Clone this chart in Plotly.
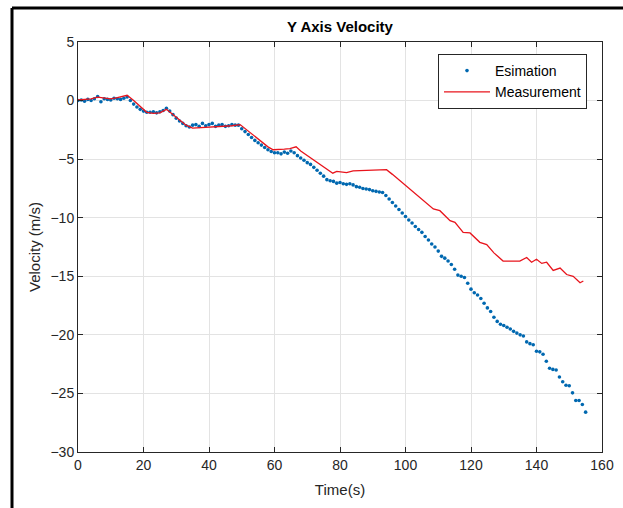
import plotly.graph_objects as go

# Estimation (blue dots), one sample per second starting at t = 0
est_vel = [
    0.0, 0.05, -0.05, 0.1, 0.0, 0.15, 0.35, -0.1, 0.15, 0.1, 0.05, 0.2, 0.15, 0.1, 0.2, 0.3,
    0.0, -0.3, -0.55, -0.75, -0.9, -1.0,
    -1.0, -0.95, -1.05, -0.95, -0.85,
    -0.65,
    -0.9, -1.2, -1.5, -1.75, -1.95, -2.15, -2.25,
    -2.1, -2.05, -2.2, -1.95, -2.15, -2.05, -1.95, -2.2, -2.1, -2.05, -2.2, -2.15, -2.05, -2.1, -2.1,
    -2.4, -2.65, -2.9, -3.15, -3.4, -3.6, -3.8, -4.0, -4.2, -4.35,
    -4.45, -4.45, -4.55, -4.4, -4.5, -4.3, -4.45,
    -4.7, -4.9, -5.1, -5.3, -5.45, -5.7, -5.95, -6.2, -6.45, -6.75, -6.85,
    -6.9, -7.05, -7.0, -7.1, -7.15, -7.1, -7.2, -7.35, -7.4, -7.5, -7.55, -7.6, -7.7, -7.75, -7.8, -7.85,
    -8.1, -8.4, -8.7, -9.0, -9.3, -9.6, -9.9, -10.2, -10.45, -10.75, -11.0, -11.25, -11.6, -11.9,
    -12.25, -12.5, -12.85, -13.3, -13.45, -13.7,
    -14.0, -14.4, -14.9, -15.0, -15.1, -15.6, -16.1, -16.4, -16.6, -16.9, -17.3, -17.7,
    -18.0, -18.5, -18.85, -19.1, -19.2, -19.35, -19.5, -19.7, -19.85, -20.0, -20.1, -20.6, -20.75,
    -20.85, -21.4, -21.45, -21.65, -22.25, -22.85, -22.95, -23.0, -23.6, -24.0, -24.3, -24.35,
    -24.95, -25.6, -25.6, -25.95, -26.6,
]
est_time = list(range(len(est_vel)))

# Measurement (red line)
meas_time = [
    0, 2, 4, 6, 8, 10, 12, 14, 15,
    17, 19, 21, 23, 25, 27, 29, 31, 33, 35,
    38, 41, 44, 47, 49.5,
    52, 55, 58, 59.6, 61, 63, 64.7, 66.6, 68,
    70.8, 72.9, 75, 77.8, 79, 82, 84, 88, 94.2, 96,
    99.3, 102, 105.4, 108.5, 110.5, 113.6, 115.1, 117.6, 119.7, 122.7,
    124.8, 127, 129.8, 134.9, 137, 138.5, 140, 141.6, 143.1, 145.1,
    147.2, 149.2, 151.2, 153.3, 154.3,
]
meas_vel = [
    0.05, 0.1, 0.15, 0.3, 0.2, 0.15, 0.25, 0.35, 0.45,
    0.0, -0.5, -1.0, -1.1, -1.05, -0.75, -1.2, -1.65, -2.1, -2.35,
    -2.3, -2.3, -2.2, -2.15, -2.05,
    -2.6, -3.3, -3.95, -4.2, -4.2, -4.15, -4.1, -3.95, -4.3,
    -4.85, -5.25, -5.7, -6.2, -6.05, -6.15, -6.0, -5.95, -5.9, -6.3,
    -7.1, -7.7, -8.5, -9.25, -9.4, -10.25, -10.4, -11.25, -11.3, -12.1,
    -12.3, -13.0, -13.7, -13.7, -13.4, -13.8, -13.55, -13.9, -13.8, -14.5,
    -14.3, -14.85, -15.0, -15.55, -15.4,
]

x_ticks = [0, 20, 40, 60, 80, 100, 120, 140, 160]
y_ticks = [5, 0, -5, -10, -15, -20, -25, -30]

FONT = "Liberation Sans, Arial, sans-serif"
TXT = "#262626"

W, H = 623, 508
L, R, T, B = 78, 21, 42, 56
PW, PH = W - L - R, H - T - B

fig = go.Figure()
fig.add_trace(go.Scatter(
    x=est_time, y=est_vel, mode="markers", name="Esimation",
    marker=dict(color="#0068B0", size=3.6),
))
fig.add_trace(go.Scatter(
    x=meas_time, y=meas_vel, mode="lines", name="Measurement",
    line=dict(color="#E8141C", width=1.3),
))

axis_common = dict(
    showline=True, linecolor=TXT, linewidth=1, mirror="ticks",
    ticks="inside", ticklen=5, tickcolor=TXT,
    showgrid=True, gridcolor="#E3E3E3", gridwidth=1,
    zeroline=False,
    tickfont=dict(family=FONT, size=14, color=TXT),
)

fig.update_xaxes(
    range=[0, 160], tickvals=x_ticks,
    title=dict(text="Time(s)", font=dict(family=FONT, size=15, color=TXT), standoff=12),
    **axis_common,
)
fig.update_yaxes(
    range=[-30, 5], tickvals=y_ticks,
    title=dict(text="Velocity (m/s)", font=dict(family=FONT, size=15, color=TXT), standoff=6),
    **axis_common,
)

fx = lambda px: (px - L) / PW
fy = lambda py: (H - B - py) / PH

fig.update_layout(
    width=W, height=H,
    margin=dict(l=L, r=R, t=T, b=B, autoexpand=False),
    paper_bgcolor="white", plot_bgcolor="white",
    title=dict(text="<b>Y Axis Velocity</b>", x=0.5, xref="paper", xanchor="center",
               y=1 - 27 / H, yref="container", yanchor="middle",
               font=dict(family=FONT, size=15, color="#000000")),
    legend=dict(
        x=fx(587), y=fy(54), xanchor="right", yanchor="top",
        bgcolor="white", bordercolor=TXT, borderwidth=1,
        font=dict(family=FONT, size=14, color="#000000"),
        itemwidth=46, tracegroupgap=0,
    ),
    showlegend=True,
    shapes=[
        dict(type="line", xref="paper", yref="paper",
             x0=fx(12), x1=fx(12), y0=fy(8), y1=fy(H),
             line=dict(color="black", width=3)),
        dict(type="line", xref="paper", yref="paper",
             x0=fx(12), x1=fx(W), y0=fy(8), y1=fy(8),
             line=dict(color="black", width=3)),
    ],
)

fig.write_html(
    "out.html",
    config={"displayModeBar": False},
    post_script="document.body.style.margin='0';document.body.style.overflow='hidden';",
)
